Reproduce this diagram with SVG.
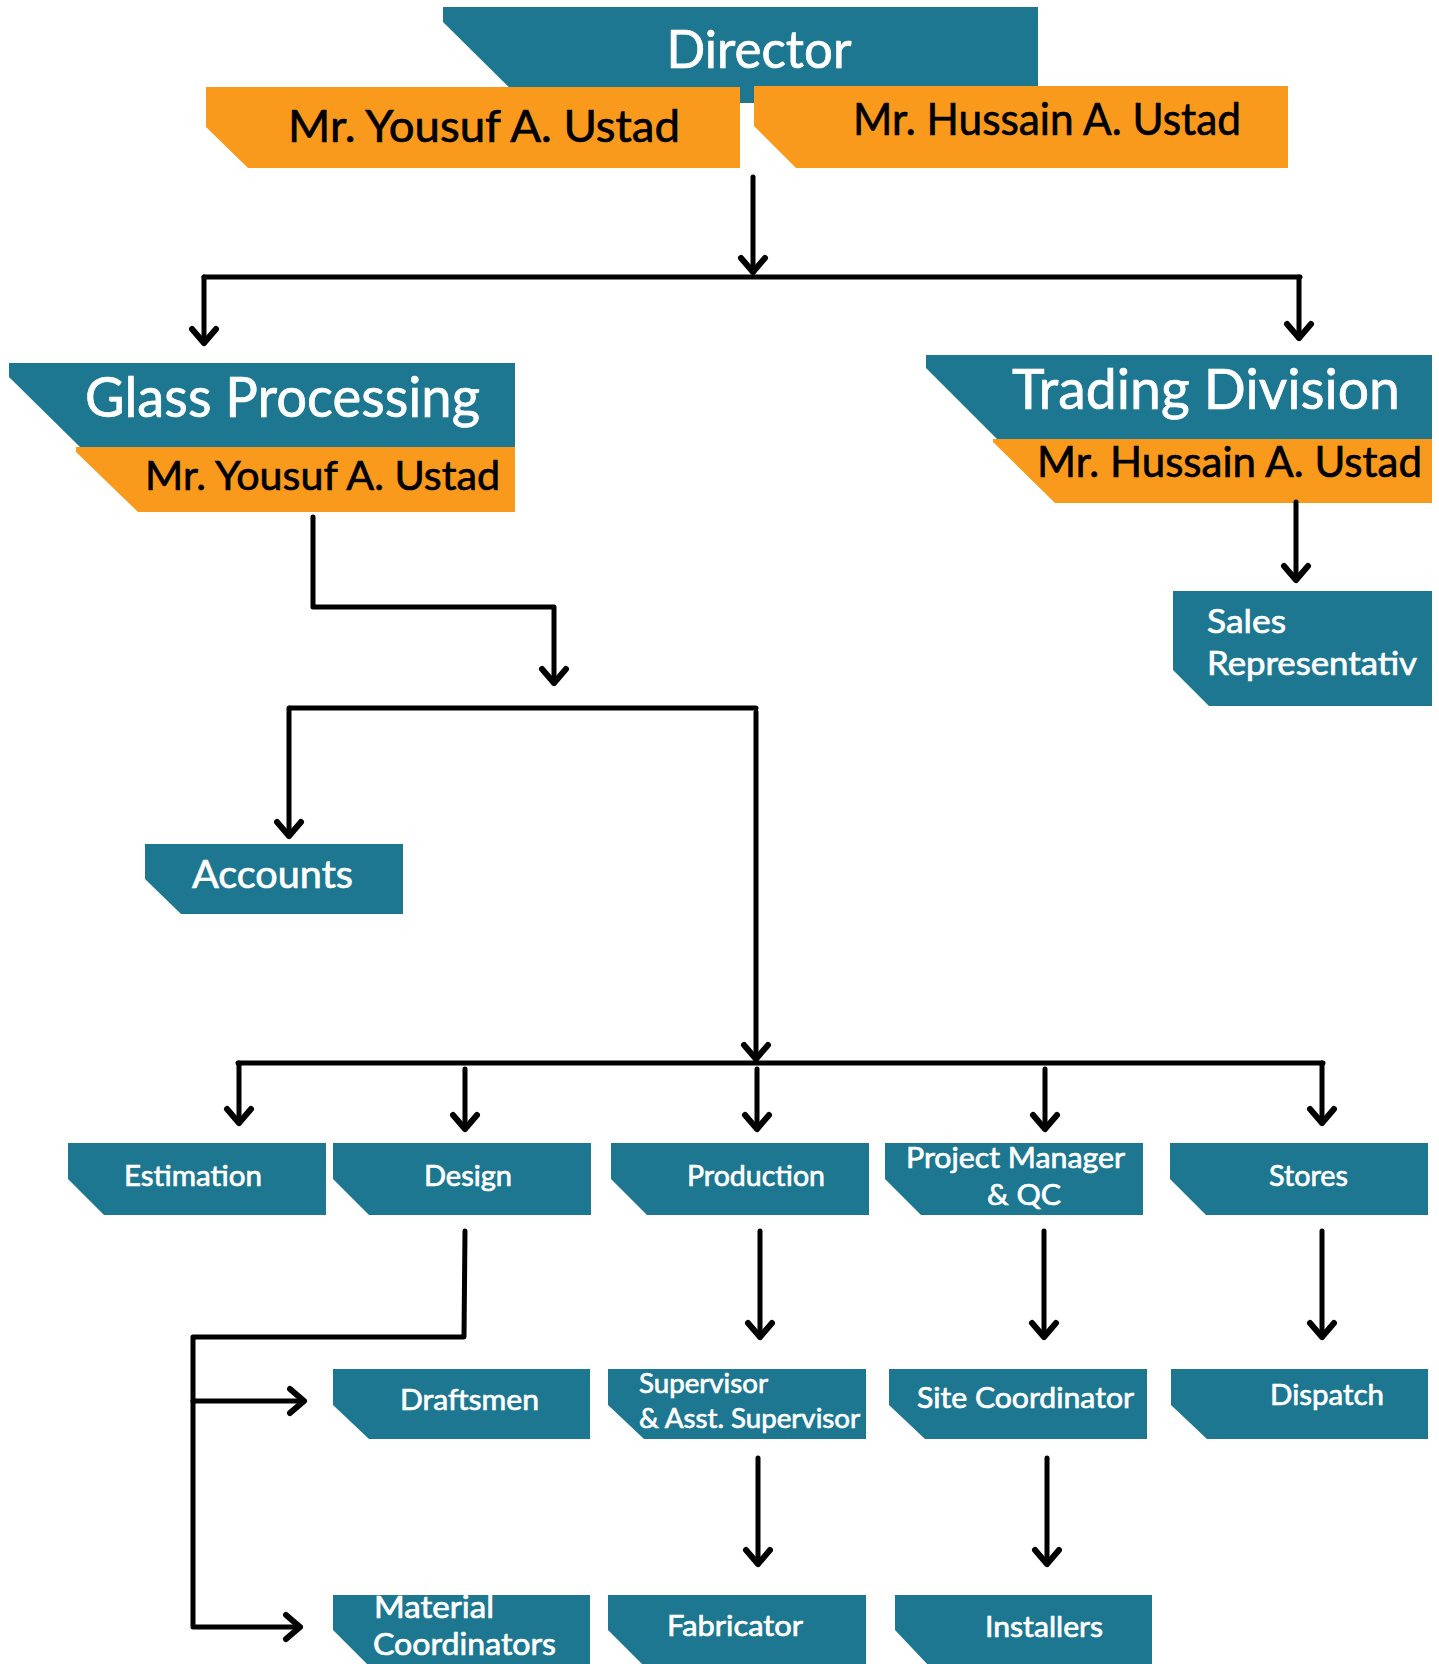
<svg xmlns="http://www.w3.org/2000/svg" width="1439" height="1664" viewBox="0 0 1439 1664">
<style>
.b{fill:#1d7791}
.o{fill:#f99a1c}
text{font-family:Lato,"Open Sans","Liberation Sans",sans-serif}
.w{fill:#ffffff;stroke:#ffffff;stroke-width:0.7}
.k{fill:#000000;stroke:#000000;stroke-width:0.7}
.c path{fill:none;stroke:#000;stroke-width:5;stroke-linecap:round;stroke-linejoin:round}
</style>
<defs>
<marker id="ah" markerUnits="userSpaceOnUse" markerWidth="36" markerHeight="36" viewBox="-18 -18 36 36" refX="0" refY="0" orient="auto">
<path d="M-14,-12 L0,0 L-14,12" fill="none" stroke="#000" stroke-width="6" stroke-linecap="round" stroke-linejoin="round"/>
</marker>
</defs>
<rect width="1439" height="1664" fill="#ffffff"/>

<g id="director">
<polygon class="b" points="443,7 1038,7 1038,103 525,103 443,22"/>
<text class="w" x="759" y="68" font-size="52" text-anchor="middle" textLength="185" lengthAdjust="spacingAndGlyphs">Director</text>
</g>
<g id="director-yousuf">
<polygon class="o" points="206,87 740,87 740,168 248,168 206,127"/>
<text class="k" x="288" y="142" font-size="45" textLength="392" lengthAdjust="spacingAndGlyphs">Mr. Yousuf A. Ustad</text>
</g>
<g id="director-hussain">
<polygon class="o" points="754,86 1288,86 1288,168 796,168 754,126"/>
<text class="k" x="853" y="135" font-size="45" textLength="388" lengthAdjust="spacingAndGlyphs">Mr. Hussain A. Ustad</text>
</g>

<g id="glass">
<polygon class="b" points="9,363 515,363 515,447 80,447 9,377"/>
<polygon class="o" points="76,447 515,447 515,512 138,512 76,452"/>
<text class="w" x="85" y="417" font-size="56" textLength="395" lengthAdjust="spacingAndGlyphs">Glass Processing</text>
<text class="k" x="145" y="490" font-size="40" textLength="355" lengthAdjust="spacingAndGlyphs">Mr. Yousuf A. Ustad</text>
</g>

<g id="trading">
<polygon class="b" points="926,355 1432,355 1432,439 997,439 926,368"/>
<polygon class="o" points="993,439 1432,439 1432,503 1055,503 993,442"/>
<text class="w" x="1012" y="409" font-size="56" textLength="388" lengthAdjust="spacingAndGlyphs">Trading Division</text>
<text class="k" x="1037" y="477" font-size="42" textLength="385" lengthAdjust="spacingAndGlyphs">Mr. Hussain A. Ustad</text>
</g>

<g id="sales">
<polygon class="b" points="1173,591 1432,591 1432,706 1209,706 1173,670"/>
<text class="w" x="1207" y="633" font-size="33" textLength="79" lengthAdjust="spacingAndGlyphs">Sales</text>
<text class="w" x="1207" y="675" font-size="33" textLength="210" lengthAdjust="spacingAndGlyphs">Representativ</text>
</g>

<g id="accounts">
<polygon class="b" points="145,844 403,844 403,914 181,914 145,879"/>
<text class="w" x="192" y="888" font-size="38" textLength="161" lengthAdjust="spacingAndGlyphs">Accounts</text>
</g>

<g id="estimation">
<polygon class="b" points="68,1143 326,1143 326,1215 104,1215 68,1179"/>
<text class="w" x="124" y="1186" font-size="29" textLength="138" lengthAdjust="spacingAndGlyphs">Estimation</text>
</g>
<g id="design">
<polygon class="b" points="333,1143 591,1143 591,1215 369,1215 333,1179"/>
<text class="w" x="424" y="1186" font-size="29" textLength="88" lengthAdjust="spacingAndGlyphs">Design</text>
</g>
<g id="production">
<polygon class="b" points="611,1143 869,1143 869,1215 647,1215 611,1179"/>
<text class="w" x="687" y="1186" font-size="29" textLength="138" lengthAdjust="spacingAndGlyphs">Production</text>
</g>
<g id="pm">
<polygon class="b" points="885,1143 1143,1143 1143,1215 921,1215 885,1179"/>
<text class="w" x="906" y="1168" font-size="29" textLength="219" lengthAdjust="spacingAndGlyphs">Project Manager</text>
<text class="w" x="987" y="1205" font-size="29" textLength="74" lengthAdjust="spacingAndGlyphs">&amp; QC</text>
</g>
<g id="stores">
<polygon class="b" points="1170,1143 1428,1143 1428,1215 1206,1215 1170,1179"/>
<text class="w" x="1269" y="1186" font-size="29" textLength="79" lengthAdjust="spacingAndGlyphs">Stores</text>
</g>

<g id="draftsmen">
<polygon class="b" points="333,1369 590,1369 590,1439 369,1439 333,1405"/>
<text class="w" x="400" y="1410" font-size="29" textLength="139" lengthAdjust="spacingAndGlyphs">Draftsmen</text>
</g>
<g id="supervisor">
<polygon class="b" points="608,1369 866,1369 866,1439 644,1439 608,1405"/>
<text class="w" x="639" y="1393" font-size="27" textLength="129" lengthAdjust="spacingAndGlyphs">Supervisor</text>
<text class="w" x="639" y="1428" font-size="27" textLength="221" lengthAdjust="spacingAndGlyphs">&amp; Asst. Supervisor</text>
</g>
<g id="site">
<polygon class="b" points="889,1369 1147,1369 1147,1439 925,1439 889,1405"/>
<text class="w" x="917" y="1408" font-size="29" textLength="217" lengthAdjust="spacingAndGlyphs">Site Coordinator</text>
</g>
<g id="dispatch">
<polygon class="b" points="1171,1369 1428,1369 1428,1439 1207,1439 1171,1405"/>
<text class="w" x="1270" y="1405" font-size="29" textLength="114" lengthAdjust="spacingAndGlyphs">Dispatch</text>
</g>

<g id="material">
<polygon class="b" points="333,1595 590,1595 590,1666 369,1666 333,1630"/>
<text class="w" x="374" y="1618" font-size="30" textLength="120" lengthAdjust="spacingAndGlyphs">Material</text>
<text class="w" x="373" y="1655" font-size="30" textLength="183" lengthAdjust="spacingAndGlyphs">Coordinators</text>
</g>
<g id="fabricator">
<polygon class="b" points="608,1595 866,1595 866,1666 644,1666 608,1630"/>
<text class="w" x="667" y="1636" font-size="29" textLength="136" lengthAdjust="spacingAndGlyphs">Fabricator</text>
</g>
<g id="installers">
<polygon class="b" points="895,1595 1152,1595 1152,1666 929,1666 895,1630"/>
<text class="w" x="985" y="1637" font-size="29" textLength="118" lengthAdjust="spacingAndGlyphs">Installers</text>
</g>

<g id="connectors" class="c">
<path d="M753,177 V272" marker-end="url(#ah)"/>
<path d="M204,277 H1300"/>
<path d="M204,277 V343" marker-end="url(#ah)"/>
<path d="M1299,277 V338" marker-end="url(#ah)"/>
<path d="M1296,502 V580" marker-end="url(#ah)"/>
<path d="M313,517 V607 H554 V683" marker-end="url(#ah)"/>
<path d="M290,708 H756"/>
<path d="M289,708 V836" marker-end="url(#ah)"/>
<path d="M756,712 V1059" marker-end="url(#ah)"/>
<path d="M238,1063 H1323"/>
<path d="M239,1063 V1123" marker-end="url(#ah)"/>
<path d="M465,1069 V1129" marker-end="url(#ah)"/>
<path d="M757,1069 V1129" marker-end="url(#ah)"/>
<path d="M1045,1069 V1129" marker-end="url(#ah)"/>
<path d="M1322,1063 V1123" marker-end="url(#ah)"/>
<path d="M465,1231 L464,1337 H193 V1627 H300" marker-end="url(#ah)"/>
<path d="M193,1401 H304" marker-end="url(#ah)"/>
<path d="M760,1231 V1337" marker-end="url(#ah)"/>
<path d="M1044,1231 V1337" marker-end="url(#ah)"/>
<path d="M1322,1231 V1337" marker-end="url(#ah)"/>
<path d="M758,1458 V1564" marker-end="url(#ah)"/>
<path d="M1047,1458 V1564" marker-end="url(#ah)"/>
</g>
</svg>
